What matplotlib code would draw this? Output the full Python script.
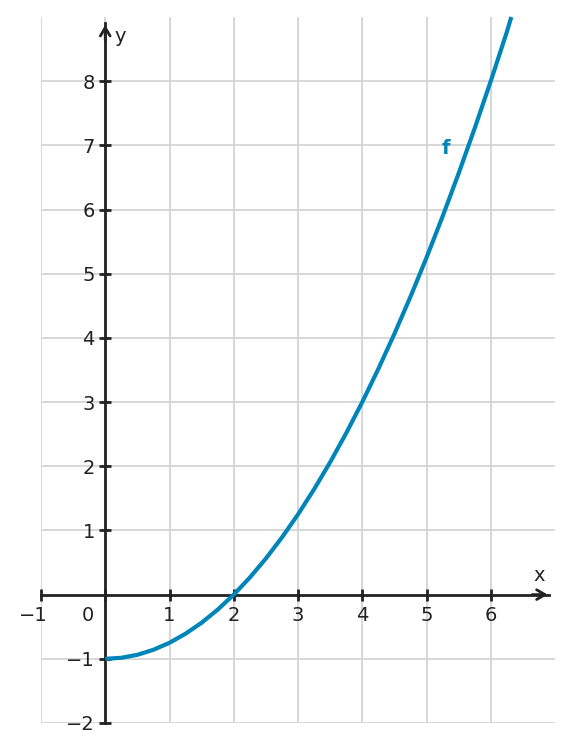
import matplotlib
matplotlib.use("Agg")
import matplotlib.pyplot as plt
import matplotlib.transforms as mtransforms

# data
x_vals = [0, 0.25, 0.5, 0.75, 1, 1.25, 1.5, 1.75, 2, 2.25, 2.5, 2.75, 3, 3.25,
          3.5, 3.75, 4, 4.25, 4.5, 4.75, 5, 5.25, 5.5, 5.75, 6, 6.25, 6.32]
y_vals = [-1, -0.984, -0.9375, -0.859, -0.75, -0.609, -0.4375, -0.234, 0, 0.266,
          0.5625, 0.891, 1.25, 1.641, 2.0625, 2.516, 3, 3.516, 4.0625, 4.641,
          5.25, 5.891, 6.5625, 7.266, 8, 8.766, 9.0]
x_ticks = [-1, 0, 1, 2, 3, 4, 5, 6]
x_labels = ["−1", "0", "1", "2", "3", "4", "5", "6"]
y_ticks = [-2, -1, 1, 2, 3, 4, 5, 6, 7, 8]
y_labels = ["−2", "−1", "1", "2", "3", "4", "5", "6", "7", "8"]
curve_label = "f"

AX = "#222222"
CURVE = "#0085b9"
GRID = "#d4d4d4"
FS = 14

fig = plt.figure(figsize=(5.73, 7.52), dpi=100)
ax = fig.add_axes([41/573, 29/752, (555-41)/573, (723-17)/752])
ax.set_xlim(-1, 7)
ax.set_ylim(-2, 9)

ax.set_xticks(x_ticks)
ax.set_xticklabels(x_labels)
ax.set_yticks(y_ticks)
ax.set_yticklabels(y_labels)
ax.grid(True, color=GRID, lw=1.3, zorder=0)
ax.set_axisbelow(True)

for s in ["top", "right"]:
    ax.spines[s].set_visible(False)
ax.spines["left"].set_position(("data", 0))
ax.spines["bottom"].set_position(("data", 0))
ax.spines["left"].set_bounds(-2, 8.9)
ax.spines["bottom"].set_bounds(-1, 6.9)
for s in ["left", "bottom"]:
    ax.spines[s].set_color(AX)
    ax.spines[s].set_linewidth(2)
    ax.spines[s].set_zorder(3)

ax.tick_params(direction="inout", length=9, width=2, color=AX,
               labelsize=FS, labelcolor=AX)
ax.tick_params(axis="x", pad=4)
ax.tick_params(axis="y", pad=3)

# shift the "0" and "−1" labels to the left
for lbl in ax.get_xticklabels():
    t = lbl.get_text()
    if t == "0":
        off = mtransforms.ScaledTranslation(-17/100, 0, fig.dpi_scale_trans)
        lbl.set_transform(lbl.get_transform() + off)
    elif t == "−1":
        off = mtransforms.ScaledTranslation(-8/100, 0, fig.dpi_scale_trans)
        lbl.set_transform(lbl.get_transform() + off)

# arrow heads
ax.annotate("", xy=(6.93, 0), xytext=(6.6, 0),
            arrowprops=dict(arrowstyle="->,head_length=0.6,head_width=0.35",
                            lw=2, color=AX), zorder=4)
ax.annotate("", xy=(0, 8.92), xytext=(0, 8.6),
            arrowprops=dict(arrowstyle="->,head_length=0.6,head_width=0.35",
                            lw=2, color=AX), zorder=4)

ax.text(6.75, 0.3, "x", fontsize=FS, color=AX, ha="center", va="center")
ax.text(0.23, 8.7, "y", fontsize=FS, color=AX, ha="center", va="center")

ax.plot(x_vals, y_vals, color=CURVE, lw=3.0, zorder=5, clip_on=False,
        solid_capstyle="butt", solid_joinstyle="round")
ax.text(5.3, 6.95, curve_label, color=CURVE, fontsize=FS, fontweight="bold",
        ha="center", va="center")

fig.savefig("out.png", dpi=100)
